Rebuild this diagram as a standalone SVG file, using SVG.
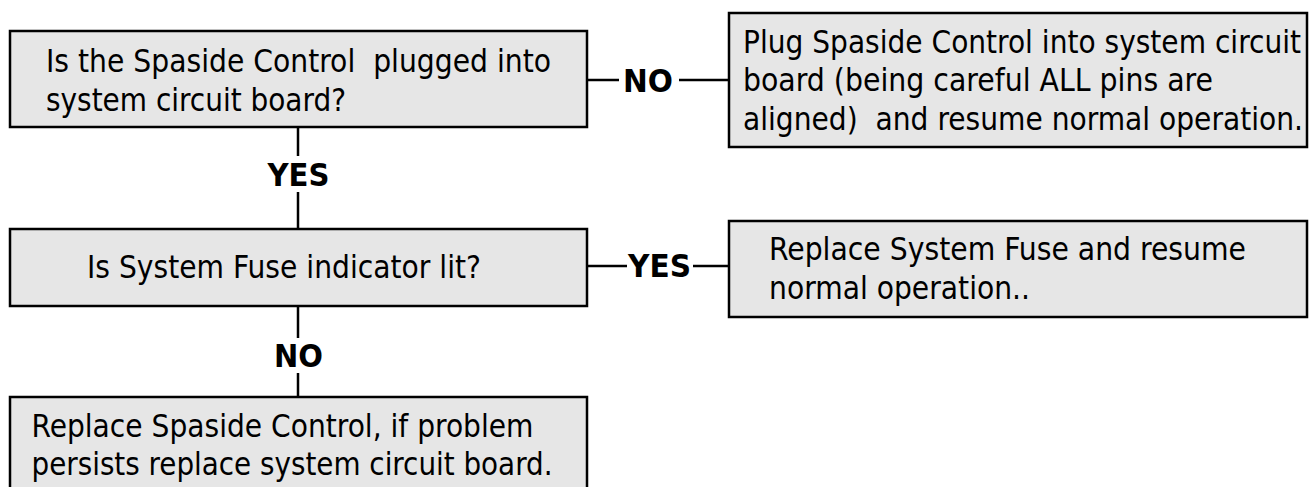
<svg xmlns="http://www.w3.org/2000/svg" width="1316" height="487" viewBox="0 0 1316 487">
<style>
.box{fill:#e6e6e6;stroke:#000;stroke-width:2.5}
.t{font-family:"DejaVu Sans Condensed","DejaVu Sans",sans-serif;font-size:32px;fill:#000;white-space:pre}
.lbl{font-family:"DejaVu Sans","Verdana",sans-serif;font-size:32px;font-weight:bold;fill:#000;text-anchor:middle}
.c{stroke:#000;stroke-width:2.5;fill:none}
</style>
<rect width="1316" height="487" fill="#fff"/>
<g id="connectors">
<line class="c" x1="587" y1="80" x2="619" y2="80"/>
<line class="c" x1="679" y1="80" x2="729" y2="80"/>
<line class="c" x1="298" y1="127" x2="298" y2="156"/>
<line class="c" x1="298" y1="192" x2="298" y2="229"/>
<line class="c" x1="587" y1="266" x2="627" y2="266"/>
<line class="c" x1="693" y1="266" x2="729" y2="266"/>
<line class="c" x1="298" y1="306" x2="298" y2="338"/>
<line class="c" x1="298" y1="373" x2="298" y2="397"/>
<text class="lbl" x="648" y="92" textLength="50" lengthAdjust="spacingAndGlyphs">NO</text>
<text class="lbl" x="298.5" y="186" textLength="62" lengthAdjust="spacingAndGlyphs">YES</text>
<text class="lbl" x="659.5" y="277" textLength="63" lengthAdjust="spacingAndGlyphs">YES</text>
<text class="lbl" x="298.5" y="367" textLength="49" lengthAdjust="spacingAndGlyphs">NO</text>
</g>
<g id="q1">
<rect class="box" x="10" y="31" width="577" height="96"/>
<text class="t" x="46" y="72" textLength="505" lengthAdjust="spacingAndGlyphs">Is the Spaside Control  plugged into</text>
<text class="t" x="46" y="111" textLength="300" lengthAdjust="spacingAndGlyphs">system circuit board?</text>
</g>
<g id="a1">
<rect class="box" x="729" y="13" width="578" height="134"/>
<text class="t" x="743" y="52.5" textLength="558" lengthAdjust="spacingAndGlyphs">Plug Spaside Control into system circuit</text>
<text class="t" x="743" y="91" textLength="470" lengthAdjust="spacingAndGlyphs">board (being careful ALL pins are</text>
<text class="t" x="743" y="129.5" textLength="560" lengthAdjust="spacingAndGlyphs">aligned)  and resume normal operation.</text>
</g>
<g id="q2">
<rect class="box" x="10" y="229" width="577" height="77"/>
<text class="t" x="87" y="278" textLength="394" lengthAdjust="spacingAndGlyphs">Is System Fuse indicator lit?</text>
</g>
<g id="a2">
<rect class="box" x="729" y="221" width="578" height="96"/>
<text class="t" x="769" y="260" textLength="477" lengthAdjust="spacingAndGlyphs">Replace System Fuse and resume</text>
<text class="t" x="769" y="299" textLength="261" lengthAdjust="spacingAndGlyphs">normal operation..</text>
</g>
<g id="a3">
<rect class="box" x="10" y="397" width="577" height="110"/>
<text class="t" x="31.5" y="437" textLength="502" lengthAdjust="spacingAndGlyphs">Replace Spaside Control, if problem</text>
<text class="t" x="31.5" y="475" textLength="521" lengthAdjust="spacingAndGlyphs">persists replace system circuit board.</text>
</g>
</svg>
